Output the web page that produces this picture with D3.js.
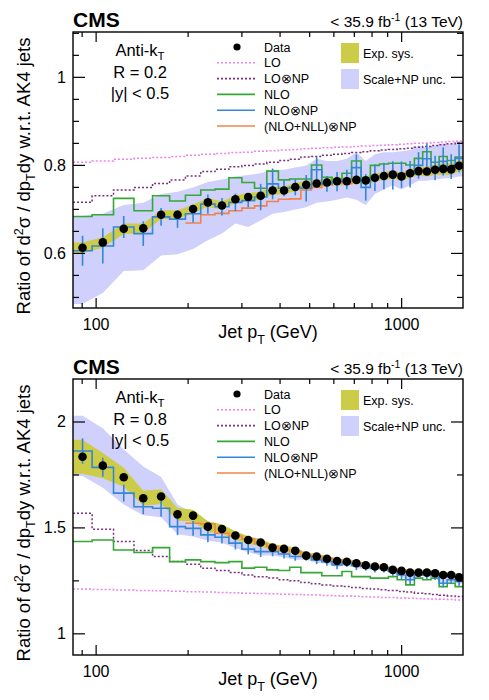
<!DOCTYPE html>
<html>
<head>
<meta charset="utf-8">
<script src="https://cdn.jsdelivr.net/npm/d3@7"></script>
<style>
  body { margin: 0; background: #fff; }
  svg text { font-family: "Liberation Sans", Arial, Helvetica, sans-serif; fill: #000; }
</style>
</head>
<body>
<svg id="mainsvg" width="489" height="700"></svg>
<script>
// jet pT bin edges (GeV)
const ptEdges = [84, 97, 114, 133, 153, 174, 196, 220, 245, 272, 300, 330, 362, 395, 430, 468, 507, 548, 592, 638, 686, 737, 790, 846, 905, 967, 1032, 1101, 1172, 1248, 1327, 1410, 1497, 1588];

// ---- R = 0.2 (top panel) ----
const dataR02 = [0.613, 0.625, 0.656, 0.657, 0.688, 0.688, 0.701, 0.716, 0.709, 0.723, 0.728, 0.731, 0.743, 0.743, 0.751, 0.756, 0.759, 0.761, 0.764, 0.764, 0.767, 0.766, 0.772, 0.776, 0.779, 0.775, 0.782, 0.787, 0.786, 0.790, 0.792, 0.791, 0.799];
const expSysR02 = [0.012, 0.012, 0.012, 0.011, 0.010, 0.010, 0.010, 0.010, 0.009, 0.009, 0.009, 0.009, 0.009, 0.009, 0.009, 0.009, 0.009, 0.009, 0.009, 0.009, 0.009, 0.009, 0.009, 0.009, 0.009, 0.009, 0.010, 0.010, 0.011, 0.012, 0.013, 0.013, 0.012];
const loR02 = [0.807, 0.810, 0.814, 0.816, 0.818, 0.820, 0.823, 0.825, 0.827, 0.829, 0.830, 0.832, 0.833, 0.835, 0.836, 0.838, 0.839, 0.840, 0.841, 0.842, 0.843, 0.844, 0.845, 0.846, 0.847, 0.848, 0.849, 0.850, 0.851, 0.852, 0.853, 0.854, 0.855];
const loNpR02 = [0.716, 0.731, 0.744, 0.750, 0.759, 0.767, 0.776, 0.786, 0.791, 0.797, 0.800, 0.803, 0.807, 0.811, 0.814, 0.819, 0.820, 0.823, 0.825, 0.827, 0.829, 0.831, 0.833, 0.835, 0.836, 0.838, 0.839, 0.841, 0.843, 0.845, 0.847, 0.849, 0.851];
const nloR02 = [0.684, 0.688, 0.725, 0.697, 0.731, 0.719, 0.732, 0.744, 0.746, 0.772, 0.761, 0.748, 0.787, 0.767, 0.769, 0.769, 0.801, 0.773, 0.767, 0.782, 0.810, 0.772, 0.800, 0.803, 0.805, 0.805, 0.801, 0.816, 0.831, 0.807, 0.820, 0.811, 0.819];
const nloNpR02 = [0.606, 0.617, 0.660, 0.645, 0.683, 0.678, 0.690, 0.712, 0.706, 0.716, 0.720, 0.728, 0.758, 0.748, 0.750, 0.748, 0.790, 0.758, 0.763, 0.768, 0.795, 0.750, 0.772, 0.776, 0.777, 0.779, 0.780, 0.800, 0.815, 0.794, 0.809, 0.797, 0.816];
const nloNpErrR02 = [0.034, 0.040, 0.025, 0.028, 0.020, 0.020, 0.020, 0.022, 0.020, 0.020, 0.015, 0.030, 0.035, 0.018, 0.018, 0.030, 0.030, 0.018, 0.022, 0.022, 0.030, 0.030, 0.030, 0.030, 0.032, 0.030, 0.030, 0.030, 0.035, 0.028, 0.032, 0.028, 0.032];
const nllR02 = [null, null, null, null, null, null, 0.669, 0.688, 0.691, 0.697, 0.703, 0.708, 0.718, 0.723, 0.724, 0.744, 0.750, 0.756, 0.761, 0.759, 0.767, 0.767, 0.771, 0.776, 0.782, 0.781, 0.784, 0.788, 0.791, 0.794, 0.794, 0.797, 0.800];
const bandLoR02 = [0.485, 0.510, 0.560, 0.562, 0.595, 0.598, 0.610, 0.630, 0.645, 0.668, 0.660, 0.675, 0.690, 0.694, 0.700, 0.705, 0.715, 0.718, 0.722, 0.727, 0.722, 0.710, 0.735, 0.745, 0.755, 0.745, 0.755, 0.765, 0.765, 0.768, 0.770, 0.772, 0.775];
const bandHiR02 = [0.685, 0.690, 0.710, 0.715, 0.735, 0.740, 0.750, 0.762, 0.768, 0.775, 0.778, 0.782, 0.790, 0.790, 0.795, 0.800, 0.815, 0.810, 0.810, 0.815, 0.830, 0.810, 0.825, 0.830, 0.830, 0.832, 0.835, 0.845, 0.840, 0.845, 0.850, 0.848, 0.855];

// ---- R = 0.8 (bottom panel) ----
const dataR08 = [1.836, 1.794, 1.739, 1.640, 1.648, 1.564, 1.558, 1.506, 1.495, 1.464, 1.443, 1.431, 1.407, 1.401, 1.392, 1.369, 1.365, 1.354, 1.344, 1.340, 1.333, 1.324, 1.318, 1.314, 1.302, 1.297, 1.289, 1.289, 1.289, 1.286, 1.278, 1.278, 1.267];
const expSysR08 = [0.080, 0.060, 0.045, 0.035, 0.035, 0.030, 0.028, 0.025, 0.022, 0.020, 0.018, 0.017, 0.016, 0.015, 0.015, 0.014, 0.014, 0.013, 0.013, 0.013, 0.013, 0.012, 0.012, 0.012, 0.012, 0.012, 0.012, 0.012, 0.012, 0.013, 0.013, 0.014, 0.015];
const loR08 = [1.211, 1.209, 1.207, 1.205, 1.203, 1.201, 1.199, 1.197, 1.195, 1.194, 1.192, 1.190, 1.189, 1.187, 1.186, 1.184, 1.183, 1.181, 1.180, 1.178, 1.177, 1.175, 1.174, 1.172, 1.171, 1.169, 1.168, 1.167, 1.165, 1.164, 1.163, 1.162, 1.160];
const loNpR08 = [1.569, 1.494, 1.436, 1.393, 1.365, 1.341, 1.329, 1.310, 1.299, 1.289, 1.278, 1.270, 1.263, 1.255, 1.250, 1.242, 1.236, 1.231, 1.226, 1.223, 1.219, 1.214, 1.211, 1.208, 1.204, 1.200, 1.197, 1.192, 1.189, 1.186, 1.182, 1.179, 1.176];
const nloR08 = [1.436, 1.443, 1.396, 1.384, 1.407, 1.341, 1.349, 1.341, 1.336, 1.341, 1.310, 1.314, 1.302, 1.299, 1.314, 1.289, 1.289, 1.274, 1.274, 1.294, 1.270, 1.270, 1.263, 1.263, 1.270, 1.255, 1.231, 1.263, 1.255, 1.263, 1.223, 1.239, 1.223];
const nloNpR08 = [1.863, 1.786, 1.664, 1.600, 1.593, 1.506, 1.498, 1.467, 1.456, 1.428, 1.400, 1.388, 1.388, 1.377, 1.365, 1.365, 1.349, 1.341, 1.325, 1.336, 1.321, 1.318, 1.310, 1.310, 1.294, 1.278, 1.255, 1.286, 1.278, 1.274, 1.239, 1.255, 1.247];
const nloNpErrR08 = [0.060, 0.045, 0.040, 0.035, 0.040, 0.040, 0.035, 0.035, 0.030, 0.030, 0.025, 0.025, 0.022, 0.022, 0.020, 0.020, 0.020, 0.020, 0.020, 0.020, 0.020, 0.020, 0.020, 0.020, 0.020, 0.020, 0.020, 0.020, 0.020, 0.020, 0.020, 0.020, 0.020];
const nllR08 = [null, null, null, null, null, null, 1.522, 1.519, 1.475, 1.462, 1.447, 1.425, 1.412, 1.396, 1.388, 1.373, 1.365, 1.357, 1.349, 1.341, 1.333, 1.325, 1.318, 1.310, 1.305, 1.299, 1.292, 1.286, 1.283, 1.278, 1.274, 1.270, 1.263];
const bandLoR08 = [1.745, 1.690, 1.610, 1.560, 1.550, 1.470, 1.460, 1.440, 1.430, 1.405, 1.385, 1.370, 1.370, 1.360, 1.350, 1.350, 1.335, 1.330, 1.315, 1.325, 1.310, 1.305, 1.300, 1.300, 1.285, 1.270, 1.245, 1.275, 1.270, 1.265, 1.230, 1.245, 1.238];
const bandHiR08 = [2.030, 1.970, 1.870, 1.790, 1.740, 1.610, 1.570, 1.530, 1.510, 1.470, 1.440, 1.430, 1.420, 1.410, 1.395, 1.390, 1.370, 1.360, 1.345, 1.350, 1.340, 1.335, 1.325, 1.325, 1.310, 1.295, 1.275, 1.300, 1.290, 1.290, 1.260, 1.270, 1.265];

// axis ticks
const xMajorTicks = [100, 1000];
const xMinorTicks = [90, 200, 300, 400, 500, 600, 700, 800, 900];
const yMajorR02 = [0.6, 0.8, 1.0];
const yMajorR08 = [1, 1.5, 2];

const colors = {
    lo: "#ec84ec",
    loNp: "#7d2f7d",
    nlo: "#36a836",
    nloNp: "#3487d6",
    nll: "#f0834a",
    exp: "#cccc48",
    band: "#cfd0fb"
};

let svg = d3.select("#mainsvg");
const frameL = 73, frameR = 463;
let x = d3.scaleLog().domain([ptEdges[0], ptEdges[ptEdges.length - 1]]).range([frameL, frameR]);

let panels = [
    {name: "r02", top: 32, bottom: 308, yDomain: [0.476, 1.103], yMajor: yMajorR02, yMinorStep: 0.05,
     radius: "R = 0.2", data: dataR02, expSys: expSysR02, lo: loR02, loNp: loNpR02, nlo: nloR02,
     nloNp: nloNpR02, nloNpErr: nloNpErrR02, nll: nllR02, bandLo: bandLoR02, bandHi: bandHiR02},
    {name: "r08", top: 379, bottom: 655, yDomain: [0.9, 2.203], yMajor: yMajorR08, yMinorStep: 0.25,
     radius: "R = 0.8", data: dataR08, expSys: expSysR08, lo: loR08, loNp: loNpR08, nlo: nloR08,
     nloNp: nloNpR08, nloNpErr: nloNpErrR08, nll: nllR08, bandLo: bandLoR08, bandHi: bandHiR08}
];

let legendRows = [
    {label: "Data", type: "marker"},
    {label: "LO", type: "line", color: colors.lo, dash: "2,2"},
    {label: "LO\u2297NP", type: "line", color: colors.loNp, dash: "2,2"},
    {label: "NLO", type: "line", color: colors.nlo},
    {label: "NLO\u2297NP", type: "line", color: colors.nloNp},
    {label: "(NLO+NLL)\u2297NP", type: "line", color: colors.nll}
];

function drawPanel(p) {
    let g = svg.append("g").attr("id", "panel-" + p.name);
    let y = d3.scaleLinear().domain(p.yDomain).range([p.bottom, p.top]);
    let bins = p.data.map((d, i) => ({i: i, lo: ptEdges[i], hi: ptEdges[i + 1], c: Math.sqrt(ptEdges[i] * ptEdges[i + 1])}));
    let lastEdge = ptEdges[ptEdges.length - 1];

    svg.append("clipPath").attr("id", "clip-" + p.name)
        .append("rect").attr("x", frameL).attr("y", p.top)
        .attr("width", frameR - frameL).attr("height", p.bottom - p.top);
    let plot = g.append("g").attr("clip-path", "url(#clip-" + p.name + ")");

    // bands go from the left frame edge through the bin centres to the right edge
    function bandPoints(lo, hi) {
        let pts = bins.map(b => ({pt: b.c, y0: lo[b.i], y1: hi[b.i]}));
        pts.unshift({pt: ptEdges[0], y0: lo[0], y1: hi[0]});
        pts.push({pt: lastEdge, y0: lo[lo.length - 1], y1: hi[hi.length - 1]});
        return pts;
    }
    let area = d3.area().x(d => x(d.pt)).y0(d => y(d.y0)).y1(d => y(d.y1));

    // scale + NP uncertainty
    plot.append("path")
        .attr("d", area(bandPoints(p.bandLo, p.bandHi)))
        .attr("fill", colors.band);
    // experimental systematics around data
    plot.append("path")
        .attr("d", area(bandPoints(p.data.map((d, i) => d - p.expSys[i]), p.data.map((d, i) => d + p.expSys[i]))))
        .attr("fill", colors.exp);

    // histograms as step lines
    function stepPath(vals) {
        let pts = [];
        vals.forEach((v, i) => { if (v !== null) pts.push([ptEdges[i], v]); });
        pts.push([lastEdge, vals[vals.length - 1]]);
        return d3.line().x(d => x(d[0])).y(d => y(d[1])).curve(d3.curveStepAfter)(pts);
    }
    let hists = [
        {vals: p.lo, color: colors.lo, dash: "2,2", w: 1.5},
        {vals: p.loNp, color: colors.loNp, dash: "2,2", w: 1.5},
        {vals: p.nlo, color: colors.nlo, dash: null, w: 1.6},
        {vals: p.nll, color: colors.nll, dash: null, w: 1.6},
        {vals: p.nloNp, color: colors.nloNp, dash: null, w: 1.6}
    ];
    hists.forEach(h => {
        plot.append("path")
            .attr("d", stepPath(h.vals))
            .attr("fill", "none")
            .attr("stroke", h.color)
            .attr("stroke-width", h.w)
            .attr("stroke-dasharray", h.dash);
    });

    // NLO x NP error bars
    plot.selectAll(".nlonp-err").data(bins).enter()
        .append("line")
        .attr("class", "nlonp-err")
        .attr("x1", d => x(d.c)).attr("x2", d => x(d.c))
        .attr("y1", d => y(p.nloNp[d.i] - p.nloNpErr[d.i]))
        .attr("y2", d => y(p.nloNp[d.i] + p.nloNpErr[d.i]))
        .attr("stroke", colors.nloNp)
        .attr("stroke-width", 1.6);

    // data points
    plot.selectAll(".data-pt").data(bins).enter()
        .append("circle")
        .attr("class", "data-pt")
        .attr("cx", d => x(d.c))
        .attr("cy", d => y(p.data[d.i]))
        .attr("r", 4.3)
        .attr("fill", "#000");

    // frame
    g.append("rect")
        .attr("x", frameL).attr("y", p.top)
        .attr("width", frameR - frameL).attr("height", p.bottom - p.top)
        .attr("fill", "none").attr("stroke", "#000").attr("stroke-width", 1.4);

    // ticks (inward on all four sides)
    let tickg = g.append("g").attr("stroke", "#000").attr("stroke-width", 1.2);
    let yMinor = d3.range(Math.ceil(p.yDomain[0] / p.yMinorStep) * p.yMinorStep, p.yDomain[1], p.yMinorStep);
    yMinor.forEach(v => {
        let len = p.yMajor.some(m => Math.abs(m - v) < 1e-6) ? 12 : 6;
        tickg.append("line").attr("x1", frameL).attr("x2", frameL + len).attr("y1", y(v)).attr("y2", y(v));
        tickg.append("line").attr("x1", frameR).attr("x2", frameR - len).attr("y1", y(v)).attr("y2", y(v));
    });
    xMajorTicks.concat(xMinorTicks).forEach(v => {
        let len = xMajorTicks.includes(v) ? 10 : 5;
        tickg.append("line").attr("x1", x(v)).attr("x2", x(v)).attr("y1", p.bottom).attr("y2", p.bottom - len);
        tickg.append("line").attr("x1", x(v)).attr("x2", x(v)).attr("y1", p.top).attr("y2", p.top + len);
    });

    // tick labels
    p.yMajor.forEach(v => {
        g.append("text").attr("x", 66).attr("y", y(v) + 5.5)
            .attr("text-anchor", "end").attr("font-size", 16).text(v);
    });
    xMajorTicks.forEach(v => {
        g.append("text").attr("x", x(v)).attr("y", p.bottom + 22)
            .attr("text-anchor", "middle").attr("font-size", 16).text(v);
    });

    // x title
    let xt = g.append("text").attr("x", 268).attr("y", p.bottom + 30)
        .attr("text-anchor", "middle").attr("font-size", 18);
    xt.append("tspan").text("Jet p");
    xt.append("tspan").attr("font-size", 12.5).attr("dy", 6).text("T");
    xt.append("tspan").attr("dy", -6).text(" (GeV)");

    // y title
    let yt = g.append("text")
        .attr("transform", "translate(30," + ((p.top + p.bottom) / 2 + 6) + ") rotate(-90)")
        .attr("text-anchor", "middle").attr("font-size", 18.5);
    yt.append("tspan").text("Ratio of d");
    yt.append("tspan").attr("font-size", 12.5).attr("dy", -7).text("2");
    yt.append("tspan").attr("dy", 7).text("\u03c3 / dp");
    yt.append("tspan").attr("font-size", 12.5).attr("dy", 5).text("T");
    yt.append("tspan").attr("dy", -5).text("dy w.r.t. AK4 jets");

    // CMS + lumi
    g.append("text").attr("x", frameL).attr("y", p.top - 5.5)
        .attr("font-size", 21).attr("font-weight", "bold").text("CMS");
    let lumi = g.append("text").attr("x", frameR).attr("y", p.top - 5)
        .attr("text-anchor", "end").attr("font-size", 15.5);
    lumi.append("tspan").text("< 35.9 fb");
    lumi.append("tspan").attr("font-size", 10.5).attr("dy", -6).text("-1");
    lumi.append("tspan").attr("dy", 6).text(" (13 TeV)");

    // jet algorithm annotation
    let ak = g.append("text").attr("x", 140).attr("y", p.top + 24)
        .attr("text-anchor", "middle").attr("font-size", 16.5);
    ak.append("tspan").text("Anti-k");
    ak.append("tspan").attr("font-size", 11.5).attr("dy", 4).text("T");
    g.append("text").attr("x", 140).attr("y", p.top + 46)
        .attr("text-anchor", "middle").attr("font-size", 16.5).text(p.radius);
    g.append("text").attr("x", 140).attr("y", p.top + 67)
        .attr("text-anchor", "middle").attr("font-size", 16.5).text("|y| < 0.5");

    // legend
    let leg = g.append("g");
    legendRows.forEach((r, i) => {
        let cy = p.top + 15 + i * 15.8;
        if (r.type === "marker") {
            leg.append("circle").attr("cx", 237).attr("cy", cy).attr("r", 3.6).attr("fill", "#000");
        } else {
            leg.append("line").attr("x1", 217).attr("x2", 255).attr("y1", cy).attr("y2", cy)
                .attr("stroke", r.color).attr("stroke-width", 1.6)
                .attr("stroke-dasharray", r.dash || null);
        }
        leg.append("text").attr("x", 264).attr("y", cy + 4.5).attr("font-size", 12.5).text(r.label);
    });
    [{label: "Exp. sys.", color: colors.exp, cy: p.top + 21},
     {label: "Scale+NP unc.", color: colors.band, cy: p.top + 47}].forEach(b => {
        leg.append("rect").attr("x", 341).attr("y", b.cy - 10).attr("width", 18).attr("height", 20)
            .attr("fill", b.color);
        leg.append("text").attr("x", 363).attr("y", b.cy + 4.5).attr("font-size", 12.5).text(b.label);
    });
}

panels.forEach(p => drawPanel(p));
</script>
</body>
</html>
